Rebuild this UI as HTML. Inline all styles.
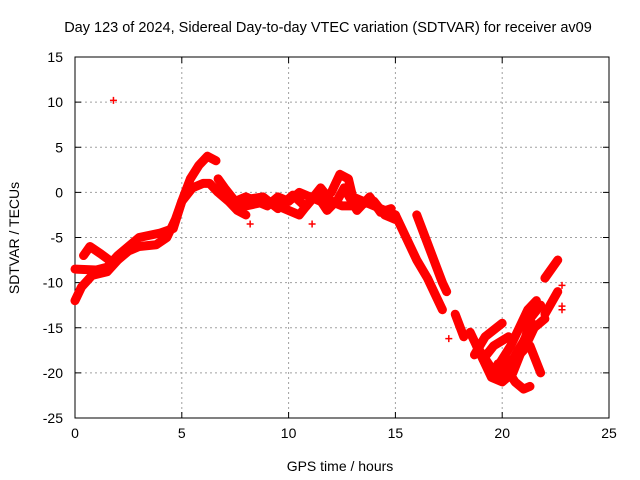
<!DOCTYPE html>
<html><head><meta charset="utf-8"><style>
body{margin:0;background:#fff}
svg{display:block;font-family:"Liberation Sans",sans-serif}
</style></head><body>
<svg id="chart" width="640" height="480" viewBox="0 0 640 480">
<text x="328" y="32" font-size="14.5" text-anchor="middle">Day 123 of 2024, Sidereal Day-to-day VTEC variation (SDTVAR) for receiver av09</text>
<g id="grid"></g>
<g id="axes"></g>
<g id="marks"></g>
<text x="340" y="471" font-size="14" text-anchor="middle">GPS time / hours</text>
<text transform="translate(19,238) rotate(-90)" font-size="14" text-anchor="middle">SDTVAR / TECUs</text>
</svg>
<script>
const xTicks=[0,5,10,15,20,25];
const yTicks=[15,10,5,0,-5,-10,-15,-20,-25];
const track1=[[0,-12],[0.3,-10.5],[0.8,-9.2],[1.5,-8.8],[2,-7.5],[2.5,-6.5],[3,-6],[3.8,-5.8],[4.3,-5],[4.7,-3],[5,-1],[5.5,0.5],[6,1],[6.3,1],[6.7,0],[7.2,-1],[7.6,-2],[8,-2.5]];
const track2=[[0,-8.5],[1,-8.6],[1.5,-8.3],[2,-7],[2.5,-6],[3,-5],[4,-4.5],[4.6,-4],[5,-1],[5.4,1.5],[5.8,3],[6.2,4],[6.6,3.5]];
const track3=[[0.4,-7],[0.7,-6],[1.2,-6.8],[1.6,-7.5]];
const track4=[[6.7,1.5],[7,0.5],[7.5,-1],[8,-0.5],[8.5,-1],[9,-1.5],[9.5,-0.5],[10,-1],[10.5,0],[11,-0.5],[11.5,-1],[12,0],[12.4,2],[12.8,1.5],[13,-0.5],[13.5,-1],[14,-1.5],[14.5,-2],[15,-2.5]];
const track5=[[7.5,-1.5],[8,-1.5],[9,-1],[10,-2],[10.5,-2.5],[11,-1],[11.5,0.5],[12,-1],[12.5,-1.5],[13,-1.5],[14,-1],[14.5,-2.5],[15,-3]];
const track5b=[[8,-0.8],[8.8,-0.5],[9.5,-1.8],[10.2,-0.3],[10.8,-1.6],[11.3,-0.2],[11.8,-2],[12.3,-0.8],[12.6,0.5],[13.2,-2],[13.8,-0.5],[14.3,-2.2],[14.8,-1.8]];
const track6=[[15,-2.5],[15.5,-5],[16,-7.5],[16.5,-9.5],[17,-12],[17.2,-13]];
const track7=[[16,-2.5],[16.4,-5],[16.8,-7.5],[17.2,-10],[17.4,-11]];
const track8=[[18.5,-15.5],[19,-18],[19.5,-20.5],[20,-21],[20.5,-20],[21,-17],[21.3,-14],[21.8,-12.5]];
const track9=[[18.8,-17],[19.5,-19.5],[20,-20],[20.4,-19],[21,-17.5],[21.5,-15],[22,-14]];
const track10=[[18.7,-18],[19.2,-16],[20,-14.5]];
const track10b=[[19.1,-18.5],[19.6,-17],[20.3,-16]];
const track11=[[19.6,-20],[20.4,-17],[20.8,-15],[21.2,-13],[21.6,-12]];
const track11b=[[19.8,-19],[20.5,-18.5],[21,-16.5],[21.4,-14.5]];
const track12=[[20.2,-19.5],[20.6,-21],[21,-21.8],[21.3,-21.5]];
const track13=[[21.3,-17],[21.8,-20]];
const track14=[[22,-13.5],[22.6,-11]];
const track15=[[22,-9.5],[22.6,-7.5]];
const track16=[[17.8,-13.5],[18.2,-16]];
const points=[[1.8,10.2],[22.8,-10.3],[22.8,-12.6],[22.8,-13],[17.5,-16.2],[8.2,-3.5],[11.1,-3.5]];
const tracks=[track1,track2,track3,track4,track5,track5b,track6,track7,track8,track9,track10,track10b,track11,track11b,track12,track13,track14,track15,track16];
const L=75,R=609,T=57,B=418;
const sx=t=>L+(t-0)/25*(R-L);
const sy=v=>T+(15-v)/40*(B-T);
const NS="http://www.w3.org/2000/svg";
function mk(tag,attrs,parent){const e=document.createElementNS(NS,tag);for(const k in attrs)e.setAttribute(k,attrs[k]);parent.appendChild(e);return e;}
const grid=document.getElementById('grid'),axes=document.getElementById('axes'),marks=document.getElementById('marks');
xTicks.forEach(t=>{
  if(t>0&&t<25){const g=mk('line',{x1:sx(t),x2:sx(t),y1:T,y2:B,stroke:'#a0a0a0','stroke-dasharray':'2,3'},grid);
  
  }
  mk('line',{x1:sx(t),x2:sx(t),y1:B,y2:B-6,stroke:'#000'},axes);
  mk('line',{x1:sx(t),x2:sx(t),y1:T,y2:T+6,stroke:'#000'},axes);
  const tx=mk('text',{x:sx(t),y:B+20,'font-size':14,'text-anchor':'middle'},axes);tx.textContent=t;
  
  
});
yTicks.forEach(v=>{
  if(v<15&&v>-25){const g=mk('line',{x1:L,x2:R,y1:sy(v),y2:sy(v),stroke:'#a0a0a0','stroke-dasharray':'2,3'},grid);
  
  }
  mk('line',{x1:L,x2:L+6,y1:sy(v),y2:sy(v),stroke:'#000'},axes);
  mk('line',{x1:R,x2:R-6,y1:sy(v),y2:sy(v),stroke:'#000'},axes);
  const tx=mk('text',{x:L-12,y:sy(v)+5,'font-size':14,'text-anchor':'end'},axes);tx.textContent=v;
  
  
});
mk('rect',{x:L,y:T,width:R-L,height:B-T,fill:'none',stroke:'#000'},axes);
tracks.forEach(tr=>{
  const p=mk('polyline',{points:tr.map(d=>sx(d[0])+','+sy(d[1])).join(' '),fill:'none',stroke:'#ff0000','stroke-width':9,'stroke-linejoin':'round','stroke-linecap':'round'},marks);
  
  
});
points.forEach(d=>{
  const x=sx(d[0]),y=sy(d[1]);
  const p=mk('path',{d:`M${x-3.5},${y}H${x+3.5}M${x},${y-3.5}V${y+3.5}`,stroke:'#ff0000','stroke-width':1.5},marks);
  
  
});
</script>
</body></html>
